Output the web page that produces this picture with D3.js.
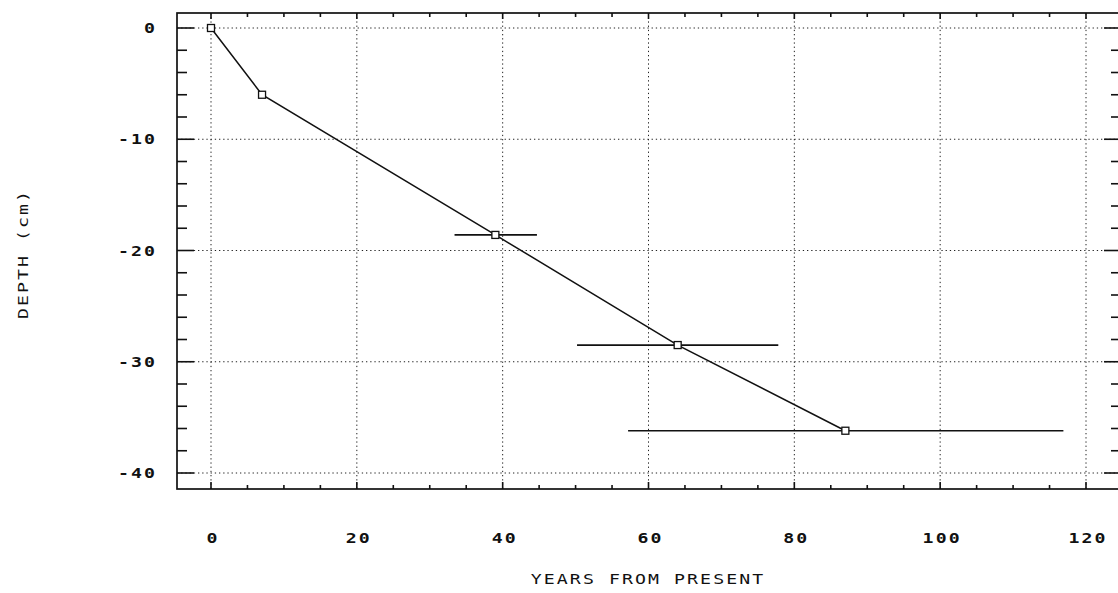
<!DOCTYPE html>
<html>
<head>
<meta charset="utf-8">
<script src="https://cdn.jsdelivr.net/npm/d3@7"></script>
<style>
  html, body { margin: 0; padding: 0; background: #fff; }
  svg { display: block; }
  text { font-family: "DejaVu Sans Mono", "Liberation Mono", monospace; fill: #111; }
</style>
</head>
<body>
<svg id="chart" width="1118" height="593"></svg>
<script>
// ---- data ----
const years     = [0, 7, 39, 64, 87];
const depths    = [0, -6, -18.6, -28.5, -36.2];
const errLow    = [0, 0, 5.6, 13.8, 29.8];
const errHigh   = [0, 0, 5.7, 13.8, 29.9];
const xTicks    = [0, 20, 40, 60, 80, 100, 120];
const yTicks    = [0, -10, -20, -30, -40];
const xLabel    = "YEARS FROM PRESENT";
const yLabel    = "DEPTH (cm)";

// ---- layout ----
const W = 1118, H = 593;
const frame = { left: 177, right: 1121, top: 13, bottom: 489 };
const SX = 1.3; // horizontal stretch to mimic the wide plotter font

const x = d3.scaleLinear().domain([0, 120]).range([211, 1086]);
const y = d3.scaleLinear().domain([0, -40]).range([28, 473]);

const svg = d3.select("#chart");
svg.append("rect").attr("width", W).attr("height", H).attr("fill", "#fff");

// grid (dotted)
const grid = svg.append("g").attr("stroke", "#222").attr("stroke-width", 1)
  .attr("stroke-dasharray", "1.3,2.9").attr("fill", "none");
xTicks.forEach(v => {
  grid.append("line").attr("x1", x(v)).attr("x2", x(v))
    .attr("y1", frame.top).attr("y2", frame.bottom);
});
yTicks.forEach(v => {
  grid.append("line").attr("x1", frame.left).attr("x2", frame.right)
    .attr("y1", y(v)).attr("y2", y(v));
});

// frame
svg.append("rect")
  .attr("x", frame.left).attr("y", frame.top)
  .attr("width", frame.right - frame.left).attr("height", frame.bottom - frame.top)
  .attr("fill", "none").attr("stroke", "#111").attr("stroke-width", 1.7);

// ticks
const tk = svg.append("g").attr("stroke", "#111").attr("stroke-width", 1.6);
const xMinor = d3.range(0, 121, 5);
xMinor.forEach(v => {
  const major = v % 20 === 0;
  tk.append("line").attr("x1", x(v)).attr("x2", x(v))
    .attr("y1", frame.bottom).attr("y2", frame.bottom - (major ? 7 : 4));
  tk.append("line").attr("x1", x(v)).attr("x2", x(v))
    .attr("y1", frame.top).attr("y2", frame.top + (major ? 6 : 4));
});
const yMinor = d3.range(0, -41, -2);
yMinor.forEach(v => {
  const major = v % 10 === 0;
  tk.append("line").attr("x1", frame.left).attr("x2", frame.left + (major ? 17 : 10))
    .attr("y1", y(v)).attr("y2", y(v));
  tk.append("line").attr("x1", frame.right).attr("x2", frame.right - (major ? 17 : 10))
    .attr("y1", y(v)).attr("y2", y(v));
});

// helper for stretched text
function wideText(parent, px, py, str, anchor, weight, rot) {
  const g = parent.append("g")
    .attr("transform", `translate(${px},${py})` + (rot ? ` rotate(${rot})` : ""));
  g.append("text")
    .attr("transform", `scale(${SX},1)`)
    .attr("text-anchor", anchor)
    .attr("font-size", 14)
    .attr("font-weight", weight)
    .attr("letter-spacing", 1.6)
    .text(str);
  return g;
}

// tick labels
const xl = svg.append("g");
xTicks.forEach(d => wideText(xl, x(d) + 2, 543, String(d), "middle", "bold"));
const yl = svg.append("g");
yTicks.forEach(d => wideText(yl, 157, y(d) + 5, d === 0 ? "0" : "-" + Math.abs(d), "end", "bold"));

// axis titles
wideText(svg, 648, 584, xLabel, "middle", "normal");
wideText(svg, 28, 254, yLabel, "middle", "normal", -90);

// data
const pts = years.map((v, i) => ({ x: v, y: depths[i], lo: errLow[i], hi: errHigh[i] }));

// error bars
svg.append("g").attr("stroke", "#111").attr("stroke-width", 1.7)
  .selectAll("line").data(pts.filter(d => d.lo > 0 || d.hi > 0)).join("line")
  .attr("x1", d => x(d.x - d.lo)).attr("x2", d => x(d.x + d.hi))
  .attr("y1", d => y(d.y)).attr("y2", d => y(d.y));

// connecting line
svg.append("path").datum(pts)
  .attr("fill", "none").attr("stroke", "#111").attr("stroke-width", 1.5)
  .attr("d", d3.line().x(d => x(d.x)).y(d => y(d.y)));

// markers
svg.append("g").selectAll("rect").data(pts).join("rect")
  .attr("x", d => x(d.x) - 3.5).attr("y", d => y(d.y) - 3.5)
  .attr("width", 7).attr("height", 7)
  .attr("fill", "#fff").attr("stroke", "#111").attr("stroke-width", 1.3);
</script>
</body>
</html>
